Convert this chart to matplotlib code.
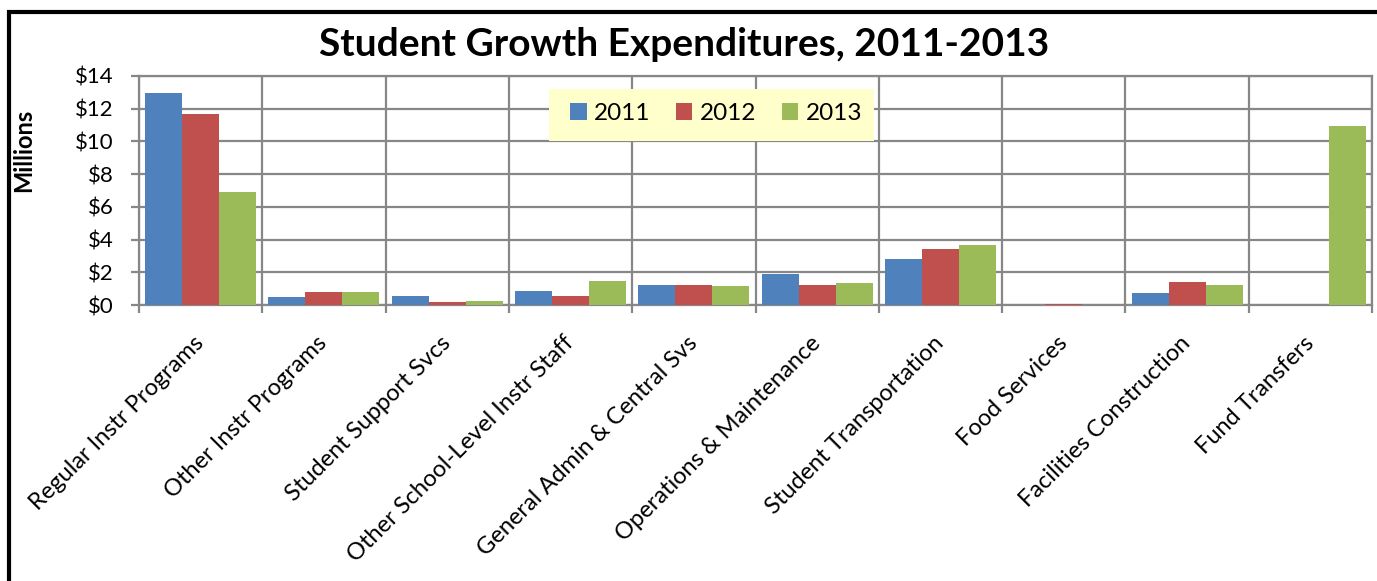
import matplotlib
matplotlib.use('Agg')
import matplotlib.pyplot as plt
import numpy as np
from matplotlib.patches import Rectangle
from matplotlib.ticker import FuncFormatter, MultipleLocator

# ── Data ──────────────────────────────────────────────────────────────────────

categories = [
    'Regular Instr Programs', 'Other Instr Programs', 'Student Support Svcs',
    'Other School-Level Instr Staff', 'General Admin & Central Svs',
    'Operations & Maintenance', 'Student Transportation', 'Food Services',
    'Facilities Construction', 'Fund Transfers',
]
years = ['2011', '2012', '2013']

vals_2011 = [12.95, 0.49, 0.56, 0.87, 1.23, 1.92, 2.80, 0.00, 0.76, 0.00]
vals_2012 = [11.65, 0.77, 0.17, 0.58, 1.21, 1.21, 3.43, 0.06, 1.42, 0.00]
vals_2013 = [6.88, 0.77, 0.27, 1.44, 1.18, 1.35, 3.64, 0.00, 1.24, 10.95]

colors = ['#4F81BD', '#C0504D', '#9BBB59']
GRID = '#878787'

plt.rcParams['font.family'] = ['Lato', 'DejaVu Sans']

# ── Figure ────────────────────────────────────────────────────────────────────

W, H = 1377, 581
fig = plt.figure(figsize=(W / 100, H / 100), dpi=100)
ax = fig.add_axes([139 / W, 1 - 305 / H, (1372 - 139) / W, (305 - 76) / H])

x = np.arange(len(categories))
bw = 0.3
for i, (vals, yr) in enumerate(zip([vals_2011, vals_2012, vals_2013], years)):
    ax.bar(x + (i - 1) * bw, vals, width=bw, color=colors[i], label=yr,
           zorder=3, linewidth=0)

ax.set_xlim(-0.5, len(categories) - 0.5)
ax.set_ylim(0, 14)
ax.yaxis.set_major_locator(MultipleLocator(2))
ax.yaxis.set_major_formatter(FuncFormatter(lambda v, p: f'${v:.0f}'))

ax.set_xticks(x)
ax.set_xticklabels(categories, rotation=45, ha='right', va='center',
                   rotation_mode='anchor', fontsize=17)
ax.set_xticks(np.arange(-0.5, len(categories)), minor=True)
ax.tick_params(axis='x', which='major', length=0, pad=25)
ax.tick_params(axis='x', which='minor', length=6, width=1.6, color=GRID,
               direction='out')
ax.tick_params(axis='y', length=6, width=1.6, color=GRID, direction='out',
               labelsize=16, pad=12)

ax.grid(axis='y', which='major', color=GRID, linewidth=1.6, zorder=1)
ax.grid(axis='x', which='minor', color=GRID, linewidth=1.6, zorder=1)
for s in ax.spines.values():
    s.set_color(GRID)
    s.set_linewidth(1.6)

ax.set_ylabel('Millions', fontsize=17, fontweight='bold')
ax.yaxis.set_label_coords(35 / W, 1 - 150 / H, transform=fig.transFigure)

# ── Legend (box drawn separately so its padding matches) ──────────────────────

ax.add_patch(Rectangle((549 / W, 1 - 141 / H), (874 - 549) / W, 52 / H,
                       transform=fig.transFigure, facecolor='#FFFFCC',
                       edgecolor='none', zorder=4, clip_on=False))
leg = ax.legend(loc='center', bbox_to_anchor=(716 / W, 1 - 113.5 / H),
                bbox_transform=fig.transFigure, ncol=3, fontsize=17.5,
                frameon=False, borderpad=0,
                handlelength=0.68, handleheight=0.68, handletextpad=0.3,
                columnspacing=1.05, borderaxespad=0)
leg.set_zorder(5)

# ── Title and frame ───────────────────────────────────────────────────────────

fig.text(684 / W, 1 - 45 / H, 'Student Growth Expenditures, 2011-2013',
         ha='center', va='center', fontsize=28, fontweight='bold')

fig.add_artist(Rectangle((9 / W, -0.2), 1.2, 1.2 - 12 / H,
                         transform=fig.transFigure, fill=False,
                         edgecolor='black', linewidth=3))

fig.savefig('out.png', dpi=100)
